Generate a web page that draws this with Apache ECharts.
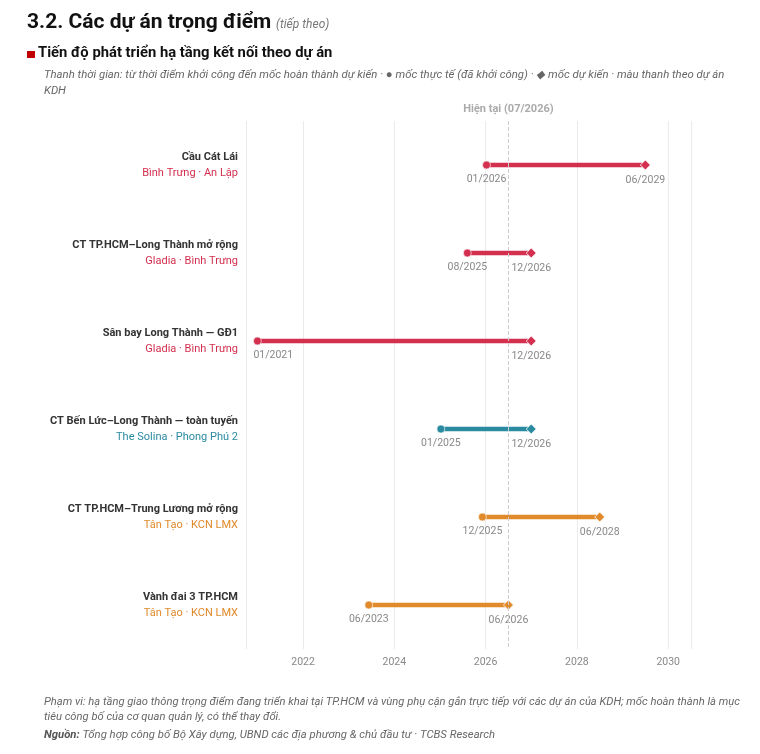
<!DOCTYPE html>
<html>
<head>
<meta charset="utf-8">
<script src="https://cdn.jsdelivr.net/npm/echarts@6/dist/echarts.min.js"></script>
<style>
  html, body { margin: 0; padding: 0; background: #fff; }
  #chart { width: 760px; height: 754px; }
</style>
</head>
<body>
<div id="chart"></div>
<script>
// du an va chu dau tu lien quan
var projects = ['Cầu Cát Lái', 'CT TP.HCM–Long Thành mở rộng', 'Sân bay Long Thành — GĐ1',
  'CT Bến Lức–Long Thành — toàn tuyến', 'CT TP.HCM–Trung Lương mở rộng', 'Vành đai 3 TP.HCM'];
var owners = ['Bình Trưng · An Lập', 'Gladia · Bình Trưng', 'Gladia · Bình Trưng',
  'The Solina · Phong Phú 2', 'Tân Tạo · KCN LMX', 'Tân Tạo · KCN LMX'];
var ownerColors = ['#d42f4e', '#d42f4e', '#d42f4e', '#2a8ba0', '#e08a2b', '#e08a2b'];

// moc thoi gian (nam thap phan)
var startYears = [2026.02, 2025.6, 2021.0, 2025.02, 2025.93, 2023.44];
var endYears = [2029.5, 2027.0, 2027.0, 2027.0, 2028.5, 2026.5];
var startLabels = ['01/2026', '08/2025', '01/2021', '01/2025', '12/2025', '06/2023'];
var endLabels = ['06/2029', '12/2026', '12/2026', '12/2026', '06/2028', '06/2026'];

var yearTicks = [2022, 2024, 2026, 2028, 2030];
var axisMin = 2020.75;
var axisMax = 2030.5;
var nowYear = 2026.5;
var nowLabel = 'Hiện tại (07/2026)';

var chart = echarts.init(document.getElementById('chart'));
var font = 'Roboto, "Noto Sans", sans-serif';

var rich = { n: { fontSize: 11, fontWeight: 'bold', color: '#333', lineHeight: 16, fontFamily: font } };
ownerColors.forEach(function (c, i) {
  rich['s' + i] = { fontSize: 11, color: c, lineHeight: 16, fontFamily: font };
});

var barData = [], startData = [], endData = [];
for (var i = 0; i < projects.length; i++) {
  barData.push([startYears[i], endYears[i], i]);
  var sItem = { value: [startYears[i], i], itemStyle: { color: ownerColors[i] } };
  // nhan sat mep trai thi canh trai
  if (startYears[i] - axisMin < 0.5) {
    sItem.label = { align: 'left', offset: [-4, 0] };
  }
  startData.push(sItem);
  endData.push({ value: [endYears[i], i], itemStyle: { color: ownerColors[i] } });
}

var option = {
  animation: false,
  textStyle: { fontFamily: font },
  grid: { left: 246, right: 69, top: 121, bottom: 105 },
  xAxis: {
    type: 'value',
    min: axisMin,
    max: axisMax,
    axisLine: { show: false },
    axisTick: { show: false, customValues: [axisMin].concat(yearTicks, [axisMax]) },
    axisLabel: {
      customValues: yearTicks, color: '#888', fontSize: 10.5, margin: 8,
      formatter: function (v) { return String(Math.round(v)); }
    },
    splitLine: { show: true, lineStyle: { color: '#ebebeb', width: 1 } }
  },
  yAxis: {
    type: 'category',
    inverse: true,
    data: projects,
    axisLine: { show: false },
    axisTick: { show: false },
    axisLabel: {
      margin: 8,
      formatter: function (v, idx) { return '{n|' + v + '}\n{s' + idx + '|' + owners[idx] + '}'; },
      rich: rich
    }
  },
  graphic: [
    { type: 'text', left: 27, top: 12, style: { text: '3.2. Các dự án trọng điểm', fontSize: 21, fontWeight: 'bold', fill: '#111', fontFamily: font } },
    { type: 'text', left: 276, top: 19, style: { text: '(tiếp theo)', fontSize: 12, fontStyle: 'italic', fill: '#777', fontFamily: font } },
    { type: 'rect', left: 27, top: 51, shape: { width: 8, height: 7 }, style: { fill: '#c00000' } },
    { type: 'text', left: 38, top: 46, style: { text: 'Tiến độ phát triển hạ tầng kết nối theo dự án', fontSize: 14.8, fontWeight: 'bold', fill: '#111', fontFamily: font } },
    { type: 'text', left: 44, top: 67, style: {
      text: 'Thanh thời gian: từ thời điểm khởi công đến mốc hoàn thành dự kiến · ● mốc thực tế (đã khởi công) · ◆ mốc dự kiến · màu thanh theo dự án\nKDH',
      fontSize: 11.35, fontStyle: 'italic', fill: '#666', lineHeight: 16, fontFamily: font } },
    { type: 'text', left: 44, top: 694, style: {
      text: 'Phạm vi: hạ tầng giao thông trọng điểm đang triển khai tại TP.HCM và vùng phụ cận gắn trực tiếp với các dự án của KDH; mốc hoàn thành là mục\ntiêu công bố của cơ quan quản lý, có thể thay đổi.',
      fontSize: 11.2, fontStyle: 'italic', fill: '#666', lineHeight: 15.5, fontFamily: font } },
    { type: 'text', left: 44, top: 730, style: {
      text: '{b|Nguồn:} Tổng hợp công bố Bộ Xây dựng, UBND các địa phương & chủ đầu tư · TCBS Research',
      fontSize: 11.3, fontStyle: 'italic', fill: '#666', fontFamily: font,
      rich: { b: { fontSize: 11.3, fontStyle: 'italic', fontWeight: 'bold', fill: '#555', fontFamily: font } } } }
  ],
  series: [
    {
      type: 'custom',
      name: 'bars',
      dimensions: ['start', 'end', 'row'],
      encode: { x: ['start', 'end'], y: 'row' },
      data: barData,
      renderItem: function (params, api) {
        var a = api.coord([api.value(0), api.value(2)]);
        var b = api.coord([api.value(1), api.value(2)]);
        return {
          type: 'line',
          shape: { x1: a[0], y1: a[1], x2: b[0] - 3, y2: b[1] },
          style: { stroke: ownerColors[params.dataIndex], lineWidth: 4.5 }
        };
      },
      z: 2
    },
    {
      type: 'scatter',
      name: 'start',
      symbol: 'circle',
      symbolSize: 8,
      data: startData,
      itemStyle: { opacity: 1, borderColor: '#fff', borderWidth: 0.6 },
      label: {
        show: true, position: 'bottom', distance: 5, color: '#888', fontSize: 10.5,
        formatter: function (p) { return startLabels[p.dataIndex]; }
      },
      markLine: {
        silent: true,
        symbol: 'none',
        lineStyle: { type: 'dashed', color: '#ccc', width: 1 },
        label: { position: 'start', formatter: nowLabel, color: '#aaa', fontWeight: 'bold', fontSize: 11, distance: 6 },
        data: [{ xAxis: nowYear }]
      },
      z: 3
    },
    {
      type: 'scatter',
      name: 'end',
      symbol: 'diamond',
      symbolSize: [10, 10],
      data: endData,
      itemStyle: { opacity: 1, borderColor: '#fff', borderWidth: 0.8 },
      label: {
        show: true, position: 'bottom', distance: 4, color: '#888', fontSize: 10.5,
        formatter: function (p) { return endLabels[p.dataIndex]; }
      },
      z: 3
    }
  ]
};

chart.setOption(option);
</script>
</body>
</html>
